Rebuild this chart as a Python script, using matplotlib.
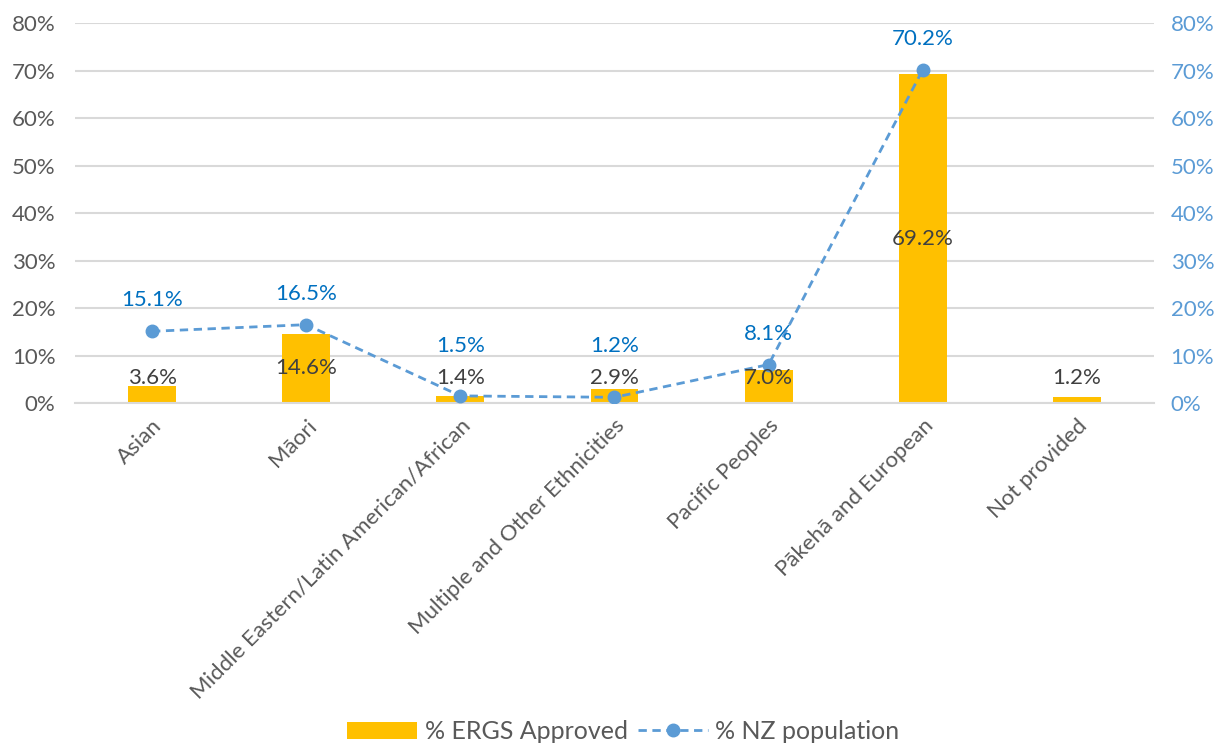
import numpy as np
import matplotlib.pyplot as plt
from matplotlib.ticker import MultipleLocator, FuncFormatter

plt.rcParams['font.family'] = ['Lato', 'DejaVu Sans']

# Dane
kategorie = ['Asian', 'Māori', 'Middle Eastern/Latin American/African',
             'Multiple and Other Ethnicities', 'Pacific Peoples',
             'Pākehā and European', 'Not provided']
ergs_approved = [3.6, 14.6, 1.4, 2.9, 7.0, 69.2, 1.2]
nz_population = [15.1, 16.5, 1.5, 1.2, 8.1, 70.2]

kolor_slupkow = '#FFC000'
kolor_linii = '#5B9BD5'
kolor_etykiet_linii = '#0070C0'
kolor_tekstu = '#595959'

fig, ax = plt.subplots(figsize=(12.29, 7.47), dpi=100)
fig.subplots_adjust(left=0.061, right=0.939, top=0.969, bottom=0.4605)

x = np.arange(len(kategorie))
slupki = ax.bar(x, ergs_approved, width=0.31, color=kolor_slupkow,
                label='% ERGS Approved', zorder=2)

ax2 = ax.twinx()
linia, = ax2.plot(x[:len(nz_population)], nz_population, '--o', color=kolor_linii,
                  linewidth=2, markersize=9, dashes=(3, 2),
                  label='% NZ population', zorder=3)

for a in (ax, ax2):
    a.set_ylim(0, 80)
    a.yaxis.set_major_locator(MultipleLocator(10))
    a.yaxis.set_major_formatter(FuncFormatter(lambda v, p: f'{v:.0f}%'))
    a.set_xlim(-0.5, len(kategorie) - 0.5)
    for s in a.spines.values():
        s.set_visible(False)
    a.tick_params(length=0)

ax.grid(axis='y', color='#D9D9D9', linewidth=1.5, zorder=0)
ax.set_axisbelow(True)
ax.spines['bottom'].set_visible(True)
ax.spines['bottom'].set_color('#D9D9D9')
ax.spines['bottom'].set_linewidth(1.5)

ax.tick_params(axis='y', labelsize=16, labelcolor=kolor_tekstu, pad=14)
ax2.tick_params(axis='y', labelsize=16, labelcolor=kolor_linii, pad=12)

ax.set_xticks(x)
ax.set_xticklabels(kategorie, rotation=45, ha='right', va='top',
                   rotation_mode='anchor', fontsize=16, color=kolor_tekstu)
ax.tick_params(axis='x', pad=9)

# Etykiety slupkow (srodek slupka, przy niskich slupkach nad nimi)
for xi, v in zip(x, ergs_approved):
    ax2.text(xi, max(v / 2, 5.2), f'{v:.1f}%', ha='center', va='center',
             fontsize=16, color='#404040', zorder=5)

# Etykiety linii (nad punktem)
for xi, v in zip(x, nz_population):
    ax2.text(xi, max(v + 6.5, 12.0), f'{v:.1f}%', ha='center', va='center',
             fontsize=16, color=kolor_etykiet_linii, zorder=5)

fig.legend(handles=[slupki, linia], loc='lower center', ncol=2,
           bbox_to_anchor=(0.507, -0.025), frameon=False, fontsize=18,
           labelcolor=kolor_tekstu, handlelength=2.8, handletextpad=0.3,
           columnspacing=0.4)

fig.savefig('out.png', dpi=100)
